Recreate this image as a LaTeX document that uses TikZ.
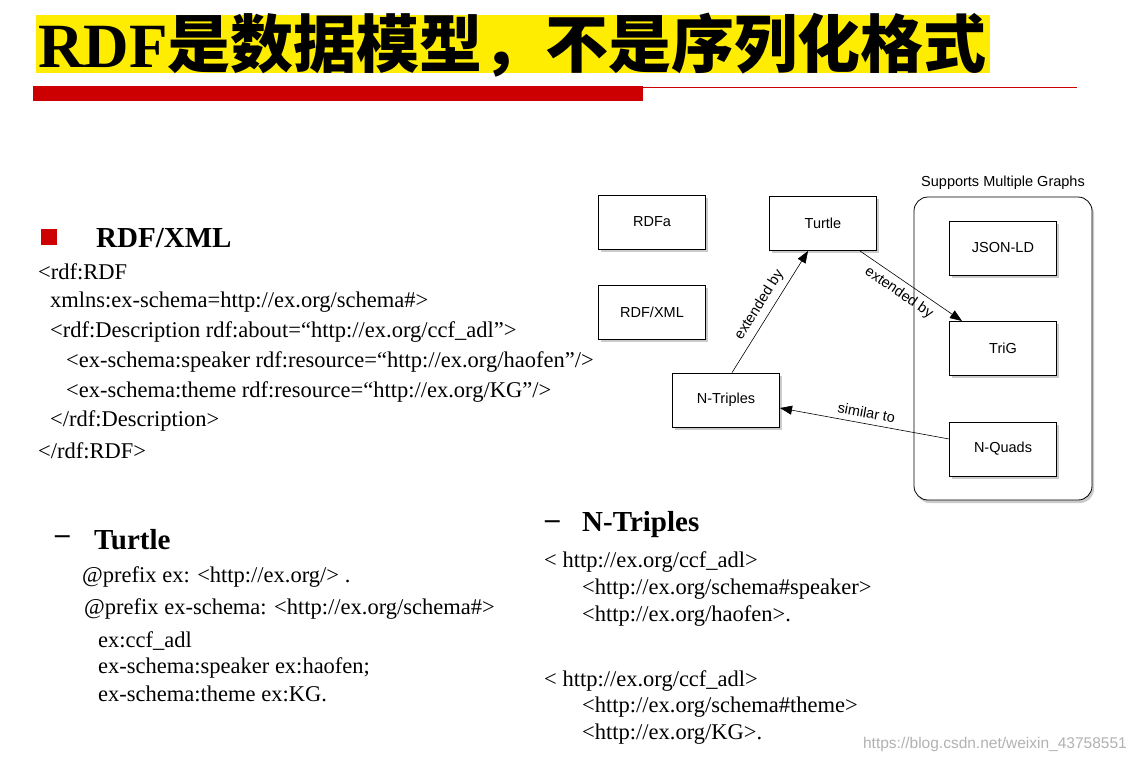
\documentclass[tikz,border=0pt]{standalone}
\usepackage{fontspec}
\setmainfont{Liberation Serif}
\newfontfamily\cjk{Noto Sans CJK SC}
\newfontfamily\sans{Liberation Sans}
\usetikzlibrary{shadows,arrows.meta}
\begin{document}
\begin{tikzpicture}[x=1pt,y=-1pt,
 bx/.style={draw,thick,fill=white,minimum width=107pt,minimum height=54pt,font=\sans\fontsize{14.5}{17}\selectfont,drop shadow={shadow xshift=2pt,shadow yshift=-3pt,fill=black!40}},
 lab/.style={font=\sans\fontsize{14.5}{17}\selectfont},
 ar/.style={-{Triangle[length=12pt,width=9pt]},semithick},
 tx/.style={anchor=west,font=\fontsize{22.5}{26}\selectfont,inner sep=0pt},
 hd/.style={anchor=west,font=\bfseries\fontsize{29}{32}\selectfont,inner sep=0pt}]
\useasboundingbox (0,0) rectangle (1134,761);
\fill[white] (0,0) rectangle (1134,761);
% title
\fill[yellow!95!orange] (36,15) rectangle (990,73);
\node[anchor=west,inner sep=0pt] (title) at (38,45) {\fontsize{63}{64}\selectfont\bfseries RDF{\cjk\bfseries 是数据模型，不是序列化格式}};
\fill[red!80!black] (33,86) rectangle (643,101);
\draw[red!80!black,thick] (643,87) -- (1077,87);
% diagram
\node[bx] (rdfa) at (652,222) {RDFa};
\node[bx] (turtle) at (823,223) {Turtle};
\node[bx] (rdfxml) at (652,312) {RDF/XML};
\node[bx] (ntrip) at (726,400) {N-Triples};
\draw[thick,rounded corners=14pt,fill=white,drop shadow={shadow xshift=2pt,shadow yshift=-3pt,fill=black!40}] (914,197) rectangle (1092,500);
\node[lab] (smg) at (1003,183) {Supports Multiple Graphs};
\node[bx] (json) at (1003,248) {JSON-LD};
\node[bx] (trig) at (1003,348) {TriG};
\node[bx] (nquads) at (1003,449) {N-Quads};
\draw[ar] (ntrip.north) ++(6,0) -- (808,251) node[midway,above=2pt,sloped,lab]{extended by};
\draw[ar] (860,251) -- (962,321) node[pos=0.45,below=2pt,sloped,lab]{extended by};
\draw[ar] (nquads.west) ++(0,-10) -- (780,408) node[midway,above=2pt,sloped,lab]{similar to};
% RDF/XML text
\fill[red!80!black] (41,229) rectangle (57,245);
\node[hd] (h1) at (96,238) {RDF/XML};
\node[tx] (l1) at (38,272) {<rdf:RDF};
\node[tx] (l2) at (50,302) {xmlns:ex-schema=http://ex.org/schema\#>};
\node[tx] (l3) at (50,332) {<rdf:Description rdf:about=“http://ex.org/ccf\_adl”>};
\node[tx] (l4) at (66,362) {<ex-schema:speaker rdf:resource=“http://ex.org/haofen”/>};
\node[tx] (l5) at (66,392) {<ex-schema:theme rdf:resource=“http://ex.org/KG”/>};
\node[tx] (l6) at (50,421) {</rdf:Description>};
\node[tx] (l7) at (38,451) {</rdf:RDF>};
% Turtle
\node[hd] (d2) at (55,540) {–};
\node[hd] (h2) at (94,540) {Turtle};
\node[tx] (t1) at (82,577) {@prefix ex: <http://ex.org/> .};
\node[tx] (t2) at (84,609) {@prefix ex-schema: <http://ex.org/schema\#>};
\node[tx] (t3) at (98,641) {ex:ccf\_adl};
\node[tx] (t4) at (98,668) {ex-schema:speaker ex:haofen;};
\node[tx] (t5) at (98,694) {ex-schema:theme ex:KG.};
% N-Triples
\node[hd] (d3) at (545,525) {–};
\node[hd] (h3) at (582,525) {N-Triples};
\node[tx] (n1) at (544,562) {< http://ex.org/ccf\_adl>};
\node[tx] (n2) at (582,589) {<http://ex.org/schema\#speaker>};
\node[tx] (n3) at (582,616) {<http://ex.org/haofen>.};
\node[tx] (n4) at (544,681) {< http://ex.org/ccf\_adl>};
\node[tx] (n5) at (582,707) {<http://ex.org/schema\#theme>};
\node[tx] (n6) at (582,734) {<http://ex.org/KG>.};
\node[anchor=east,text=black!30,font=\sans\fontsize{15.5}{17}\selectfont,inner sep=0pt] (wm) at (1127,744) {https://blog.csdn.net/weixin\_43758551};
\end{tikzpicture}
\end{document}
